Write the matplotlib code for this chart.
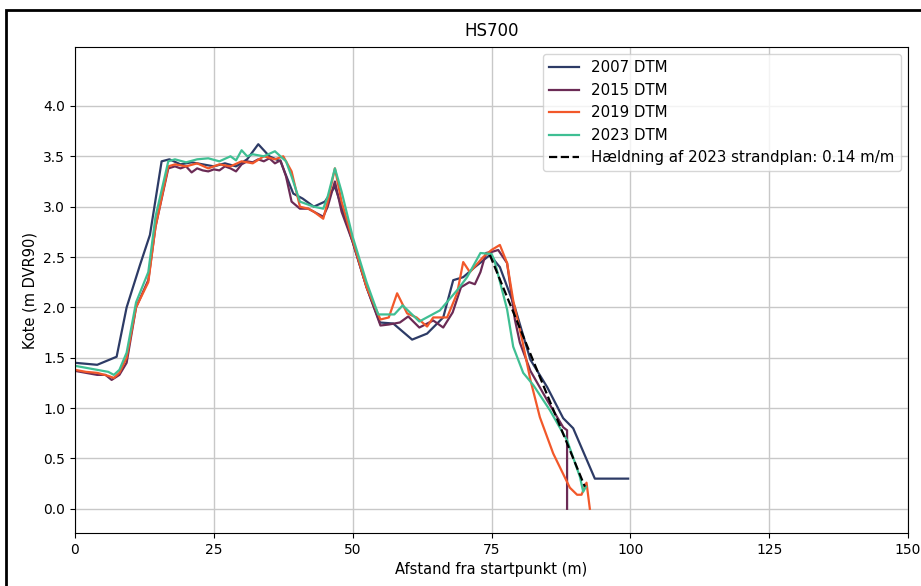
import matplotlib
matplotlib.use("Agg")
import matplotlib.pyplot as plt
from matplotlib.patches import Rectangle

# --- data ---
x_2007 = [0, 4, 7.5, 9.3, 11.7, 13.5, 15.6, 17, 19, 21, 23, 25, 27, 29, 31, 33, 35, 37,
          39.3, 41, 43, 45, 46.8, 48, 50, 52.5, 54.9, 57.3, 60.7, 63.4, 66.3, 68.1, 69.9,
          72, 74.7, 76.5, 79.2, 82, 85, 87.9, 89.7, 93.6, 99.6]
y_2007 = [1.45, 1.43, 1.51, 2.0, 2.42, 2.72, 3.45, 3.47, 3.42, 3.44, 3.42, 3.40, 3.43, 3.40,
          3.47, 3.62, 3.50, 3.45, 3.13, 3.08, 3.00, 3.05, 3.20, 3.00, 2.65, 2.20, 1.85, 1.84,
          1.68, 1.74, 1.90, 2.27, 2.30, 2.40, 2.52, 2.40, 2.00, 1.48, 1.21, 0.90, 0.80, 0.30, 0.30]

x_2015 = [0, 2, 4, 5.5, 6.6, 8, 9.3, 11, 13.2, 14.5, 16.8, 18, 19, 20, 21, 22, 23, 24, 25,
          26, 27, 28, 29, 30, 31, 32, 33, 34, 35, 36, 37, 38, 39, 40.5, 42, 43, 44.7, 45.5,
          46.8, 48, 50, 52.5, 55, 56.5, 58.5, 60, 62, 64.5, 66.3, 68, 69.5, 71, 72, 73, 74,
          75, 76.2, 77.8, 79.2, 80.1, 82, 85, 87.9, 88.6, 88.6]
y_2015 = [1.37, 1.35, 1.33, 1.33, 1.28, 1.33, 1.45, 2.0, 2.27, 2.8, 3.38, 3.40, 3.38, 3.40,
          3.34, 3.38, 3.36, 3.35, 3.37, 3.36, 3.40, 3.38, 3.35, 3.42, 3.45, 3.44, 3.47, 3.45,
          3.48, 3.43, 3.46, 3.30, 3.05, 2.98, 2.98, 2.95, 2.90, 3.0, 3.25, 2.95, 2.65, 2.2,
          1.82, 1.83, 1.85, 1.91, 1.80, 1.87, 1.80, 1.95, 2.20, 2.25, 2.23, 2.35, 2.54, 2.55,
          2.57, 2.44, 1.88, 1.65, 1.37, 1.08, 0.81, 0.78, 0.0]

x_2019 = [0, 2, 4, 6, 7, 8, 9.3, 11, 13.2, 14.5, 16.8, 18, 20, 22, 24, 26, 28, 30, 32, 34,
          36, 37.5, 39, 40.5, 42, 43, 44.7, 45.5, 46.8, 48, 50, 52.5, 55, 56.5, 58, 59.8,
          61.5, 63.4, 64.5, 67, 68.8, 69.9, 71.1, 73.5, 75, 76.5, 77.8, 78.9, 80.5, 82, 83.7,
          86.1, 89.1, 90.4, 91.2, 92.1, 92.7]
y_2019 = [1.38, 1.36, 1.35, 1.32, 1.30, 1.35, 1.5, 2.0, 2.25, 2.8, 3.40, 3.42, 3.40, 3.43,
          3.38, 3.42, 3.40, 3.45, 3.43, 3.50, 3.47, 3.50, 3.35, 3.0, 2.98, 2.95, 2.88, 3.05,
          3.38, 3.05, 2.67, 2.2, 1.88, 1.90, 2.14, 1.94, 1.90, 1.81, 1.90, 1.90, 2.14, 2.45,
          2.35, 2.50, 2.57, 2.62, 2.44, 2.07, 1.68, 1.28, 0.91, 0.55, 0.21, 0.14, 0.14, 0.26, 0.0]

x_2023 = [0, 2, 4, 6, 7, 8, 9.3, 11, 13.2, 14.5, 16.8, 18, 20, 22, 24, 26, 28, 29, 30, 31,
          32, 34, 36, 37, 38, 39, 40.5, 42, 43, 44.7, 45.5, 46.8, 48, 50, 52.5, 54.6, 57.5,
          59, 62, 65.7, 68.8, 70.6, 73, 75, 75.5, 77.8, 78.9, 80.7, 82.5, 85.5, 88.6, 90.9,
          91.5, 92]
y_2023 = [1.42, 1.40, 1.38, 1.36, 1.33, 1.38, 1.55, 2.05, 2.35, 2.9, 3.45, 3.47, 3.44, 3.47,
          3.48, 3.45, 3.50, 3.46, 3.56, 3.50, 3.52, 3.50, 3.55, 3.50, 3.45, 3.30, 3.05, 3.02,
          3.0, 2.98, 3.1, 3.38, 3.15, 2.7, 2.25, 1.93, 1.93, 2.02, 1.86, 1.97, 2.17, 2.30,
          2.54, 2.53, 2.47, 1.98, 1.61, 1.35, 1.23, 0.98, 0.68, 0.32, 0.17, 0.22]

# endpoints of the fitted beach slope (2023)
x_slope = [74.7, 91.8]
y_slope = [2.52, 0.22]

col_2007 = "#2d3b66"
col_2015 = "#6b2b55"
col_2019 = "#f2582a"
col_2023 = "#3fbf93"

fig = plt.figure(figsize=(9.21, 5.86), dpi=100)
ax = fig.add_axes([0.0814, 0.0904, 0.9046, 0.8294])

ax.plot(x_2007, y_2007, color=col_2007, lw=1.6, label="2007 DTM")
ax.plot(x_2015, y_2015, color=col_2015, lw=1.6, label="2015 DTM")
ax.plot(x_2019, y_2019, color=col_2019, lw=1.6, label="2019 DTM")
ax.plot(x_2023, y_2023, color=col_2023, lw=1.6, label="2023 DTM")
ax.plot(x_slope, y_slope, "k--", lw=1.6, label="Hældning af 2023 strandplan: 0.14 m/m")

ax.set_xlim(0, 150)
ax.set_ylim(-0.24, 4.585)
ax.set_xticks([0, 25, 50, 75, 100, 125, 150])
ax.set_yticks([0.0, 0.5, 1.0, 1.5, 2.0, 2.5, 3.0, 3.5, 4.0])
ax.grid(True, color="#c8c8c8", lw=1)
ax.set_axisbelow(True)
ax.set_title("HS700", fontsize=12, pad=8)
ax.set_xlabel("Afstand fra startpunkt (m)", fontsize=10.5)
ax.set_ylabel("Kote (m DVR90)", fontsize=10.5)
ax.tick_params(labelsize=10)
ax.legend(loc="upper right", fontsize=10.8)

# outer frame around the figure
fig.patches.append(Rectangle((6 / 921, -0.1), 1.2, 1.1 - 10 / 586, transform=fig.transFigure,
                             fill=False, edgecolor="black", lw=2))

fig.savefig("out.png", dpi=100)
